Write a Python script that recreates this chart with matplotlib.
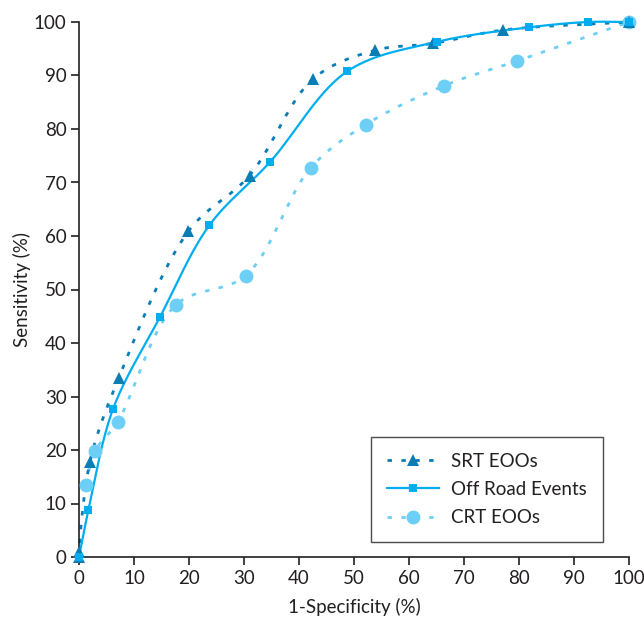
import numpy as np
import matplotlib
matplotlib.use("Agg")
import matplotlib.pyplot as plt
from matplotlib.lines import Line2D

plt.rcParams['font.family'] = ['Lato', 'DejaVu Sans']

# Data
srt_x = [0, 0, 2.0, 7.2, 19.9, 31.0, 42.6, 53.8, 64.4, 77.1, 100]
srt_y = [0, 1.0, 17.8, 33.4, 60.9, 71.3, 89.4, 94.7, 96.0, 98.5, 100]
off_x = [0, 1.7, 6.2, 14.7, 23.7, 34.7, 48.8, 65.1, 81.8, 92.5, 100]
off_y = [0, 8.7, 27.7, 44.8, 62.0, 73.8, 90.8, 96.3, 99.0, 100, 100]
crt_x = [1.2, 2.9, 7.0, 17.6, 30.3, 42.1, 52.1, 66.4, 79.6, 100]
crt_y = [13.5, 19.8, 25.2, 47.1, 52.6, 72.7, 80.8, 88.1, 92.7, 100]

series_names = ["SRT EOOs", "Off Road Events", "CRT EOOs"]
xticks = list(range(0, 101, 10))
yticks = list(range(0, 101, 10))

c_srt = "#0a7db4"
c_off = "#00aeef"
c_crt = "#6dcff6"
txt = "#231f20"
fs = 13.5


def smooth(xs, ys, n=30):
    """Catmull-Rom spline drawn through the given points (rendering only)."""
    P = np.column_stack([xs, ys]).astype(float)
    keep = [0]
    for i in range(1, len(P)):
        if np.hypot(*(P[i] - P[keep[-1]])) > 1e-9:
            keep.append(i)
    P = P[keep]
    if len(P) < 3:
        return P[:, 0], P[:, 1]
    ext = np.vstack([2 * P[0] - P[1], P, 2 * P[-1] - P[-2]])
    out = []
    alpha = 0.5
    for i in range(1, len(ext) - 2):
        p0, p1, p2, p3 = ext[i - 1], ext[i], ext[i + 1], ext[i + 2]
        t0 = 0.0
        t1 = t0 + np.linalg.norm(p1 - p0) ** alpha
        t2 = t1 + np.linalg.norm(p2 - p1) ** alpha
        t3 = t2 + np.linalg.norm(p3 - p2) ** alpha
        t = np.linspace(t1, t2, n)[:, None]
        A1 = (t1 - t) / (t1 - t0) * p0 + (t - t0) / (t1 - t0) * p1
        A2 = (t2 - t) / (t2 - t1) * p1 + (t - t1) / (t2 - t1) * p2
        A3 = (t3 - t) / (t3 - t2) * p2 + (t - t2) / (t3 - t2) * p3
        B1 = (t2 - t) / (t2 - t0) * A1 + (t - t0) / (t2 - t0) * A2
        B2 = (t3 - t) / (t3 - t1) * A2 + (t - t1) / (t3 - t1) * A3
        C = (t2 - t) / (t2 - t1) * B1 + (t - t1) / (t2 - t1) * B2
        out.append(C if i == 1 else C[1:])
    C = np.vstack(out)
    return C[:, 0], C[:, 1]


fig = plt.figure(figsize=(6.44, 6.2), dpi=100)
ax = fig.add_axes([79 / 644, 1 - 557 / 620, 550 / 644, 535 / 620])
ax.set_xlim(0, 100)
ax.set_ylim(0, 100)

dot = (0, (1.6, 3.4))

sx, sy = smooth(srt_x, srt_y)
ax.plot(sx, sy, color=c_srt, lw=2.0, linestyle=dot, zorder=2, clip_on=False)
ax.plot(srt_x, srt_y, linestyle="none", marker="^", ms=9, color=c_srt,
        markeredgewidth=0, zorder=4, clip_on=False)

ox, oy = smooth(off_x, off_y)
ax.plot(ox, oy, color=c_off, lw=1.6, linestyle="-", zorder=3, clip_on=False)
ax.plot(off_x, off_y, linestyle="none", marker="s", ms=5.5, color=c_off,
        markeredgewidth=0, zorder=5, clip_on=False)

cx, cy = smooth(crt_x, crt_y)
ax.plot(cx, cy, color=c_crt, lw=2.0, linestyle=dot, zorder=1, clip_on=False)
ax.plot(crt_x, crt_y, linestyle="none", marker="o", ms=10, color=c_crt,
        markeredgewidth=0, zorder=3, clip_on=False)

for s in ["top", "right"]:
    ax.spines[s].set_visible(False)
for s in ["left", "bottom"]:
    ax.spines[s].set_linewidth(1.2)
    ax.spines[s].set_color(txt)

ax.set_xticks(xticks)
ax.set_yticks(yticks)
ax.set_xticklabels([str(v) for v in xticks])
ax.set_yticklabels([str(v) for v in yticks])
ax.tick_params(direction="out", length=6, width=1.2, color=txt,
               labelsize=fs, labelcolor=txt, pad=3)

ax.set_xlabel("1-Specificity (%)", fontsize=fs, color=txt)
ax.set_ylabel("Sensitivity (%)", fontsize=fs, color=txt)
ax.xaxis.set_label_coords(0.5, (557 - 607) / 535)
ax.yaxis.set_label_coords((22 - 79) / 550, 0.5)
ax.xaxis.label.set_va("center")
ax.yaxis.label.set_va("center")

handles = [
    Line2D([], [], color=c_srt, lw=2.0, linestyle=dot, marker="^", ms=9,
           markeredgewidth=0),
    Line2D([], [], color=c_off, lw=1.6, linestyle="-", marker="s", ms=5.5,
           markeredgewidth=0),
    Line2D([], [], color=c_crt, lw=2.0, linestyle=dot, marker="o", ms=10,
           markeredgewidth=0),
]
leg = ax.legend(handles, series_names, loc="lower right",
                bbox_to_anchor=((603 - 79) / 550, (557 - 542) / 535),
                frameon=True, fancybox=False, fontsize=fs, handlelength=2.8,
                borderpad=0.85, labelspacing=0.6, handletextpad=0.65,
                borderaxespad=0)
leg.get_frame().set_edgecolor(txt)
leg.get_frame().set_linewidth(1.0)
for t in leg.get_texts():
    t.set_color(txt)

fig.savefig("out.png", dpi=100, facecolor="white")
